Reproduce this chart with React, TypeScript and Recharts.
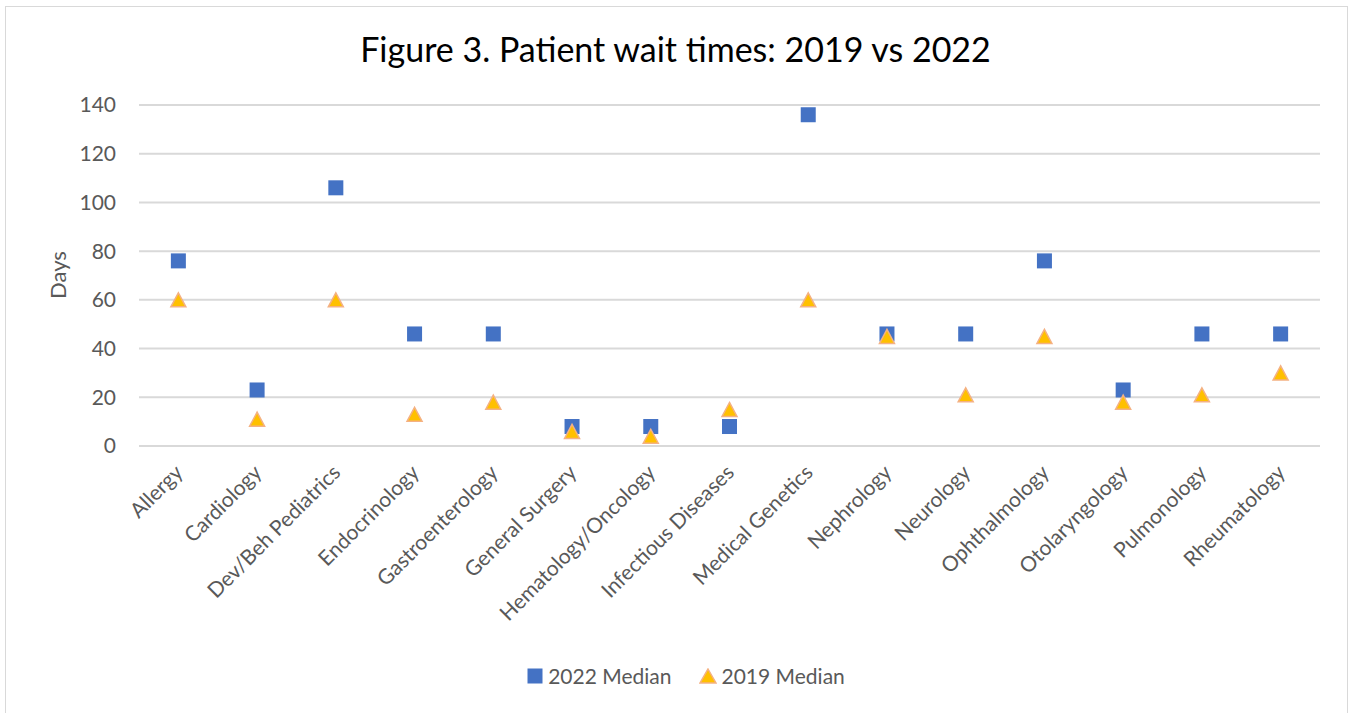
import React from 'react'
import { ComposedChart, Scatter, XAxis, YAxis, CartesianGrid, Legend } from 'recharts'

const specialties = [
  'Allergy',
  'Cardiology',
  'Dev/Beh Pediatrics',
  'Endocrinology',
  'Gastroenterology',
  'General Surgery',
  'Hematology/Oncology',
  'Infectious Diseases',
  'Medical Genetics',
  'Nephrology',
  'Neurology',
  'Ophthalmology',
  'Otolaryngology',
  'Pulmonology',
  'Rheumatology',
]
const median2022 = [76, 23, 106, 46, 46, 8, 8, 8, 136, 46, 46, 76, 23, 46, 46]
const median2019 = [60, 11, 60, 13, 18, 6, 4, 15, 60, 45, 21, 45, 18, 21, 30]
const yTicks = [0, 20, 40, 60, 80, 100, 120, 140]

const BLUE = '#4472C4'
const GOLD = '#FFC000'
const GOLD_EDGE = '#F4B183'
const TEXT = '#595959'
const FONT = 'Lato, "Open Sans", sans-serif'

const data = specialties.map((name, i) => ({
  name,
  v2022: median2022[i],
  v2019: median2019[i],
}))

const SquareDot = (props: any) => {
  const { cx, cy } = props
  if (cx == null || cy == null) return null
  return <rect x={cx - 7.5} y={cy - 7.5} width={15} height={15} fill={BLUE} />
}

const TriangleDot = (props: any) => {
  const { cx, cy } = props
  if (cx == null || cy == null) return null
  return (
    <path
      d={`M${cx},${cy - 7} L${cx + 7.5},${cy + 7} L${cx - 7.5},${cy + 7} Z`}
      fill={GOLD}
      stroke={GOLD_EDGE}
      strokeWidth={1.5}
    />
  )
}

const CategoryTick = (props: any) => {
  const { x, y, payload } = props
  const ax = x - 6
  const ay = y + 8
  return (
    <text
      x={ax}
      y={ay}
      transform={`rotate(-45, ${ax}, ${ay})`}
      textAnchor="end"
      dominantBaseline="hanging"
      fill={TEXT}
      fontSize={21}
      fontFamily={FONT}
    >
      {payload.value}
    </text>
  )
}

const LegendContent = () => (
  <div
    style={{
      display: 'flex',
      justifyContent: 'center',
      alignItems: 'center',
      fontFamily: FONT,
      fontSize: 21,
      color: TEXT,
      paddingLeft: 12,
    }}
  >
    <svg width={16} height={16} style={{ marginRight: 5 }}>
      <rect x={0.5} y={0.5} width={15} height={15} fill={BLUE} />
    </svg>
    <span>2022 Median</span>
    <svg width={18} height={16} style={{ marginLeft: 27, marginRight: 5 }}>
      <path d="M9,1 L17,15 L1,15 Z" fill={GOLD} stroke={GOLD_EDGE} strokeWidth={1.5} />
    </svg>
    <span>2019 Median</span>
  </div>
)

export default function App() {
  return (
    <div
      style={{
        position: 'absolute',
        left: 0,
        top: 0,
        width: 1351,
        height: 713,
        background: '#fff',
        fontFamily: FONT,
      }}
    >
      <div
        style={{
          position: 'absolute',
          left: 5,
          top: 6,
          width: 1343,
          height: 720,
          border: '1px solid #d9d9d9',
          boxSizing: 'border-box',
        }}
      />
      <div
        style={{
          position: 'absolute',
          left: 0,
          top: 28,
          width: 1351,
          textAlign: 'center',
          fontSize: 34,
          color: '#000',
        }}
      >
        Figure 3. Patient wait times: 2019 vs 2022
      </div>
      <div
        style={{
          position: 'absolute',
          left: 57,
          top: 275,
          transform: 'translate(-50%, -50%) rotate(-90deg)',
          fontSize: 22,
          color: TEXT,
        }}
      >
        Days
      </div>
      <div style={{ position: 'absolute', left: 0, top: 0 }}>
        <ComposedChart
          width={1351}
          height={713}
          data={data}
          margin={{ top: 105, right: 31, bottom: 20, left: 40 }}
        >
          <CartesianGrid vertical={false} stroke="#d9d9d9" strokeWidth={2} />
          <XAxis
            dataKey="name"
            type="category"
            scale="band"
            interval={0}
            tickLine={false}
            axisLine={{ stroke: '#d9d9d9', strokeWidth: 2 }}
            tick={<CategoryTick />}
            height={217}
          />
          <YAxis
            domain={[0, 140]}
            ticks={yTicks}
            width={99}
            tickLine={false}
            axisLine={false}
            tickSize={0}
            tickMargin={23}
            tick={{ fill: TEXT, fontSize: 21, fontFamily: FONT }}
          />
          <Legend verticalAlign="bottom" height={30} content={<LegendContent />} />
          <Scatter
            name="2022 Median"
            dataKey="v2022"
            shape={<SquareDot />}
            isAnimationActive={false}
          />
          <Scatter
            name="2019 Median"
            dataKey="v2019"
            shape={<TriangleDot />}
            isAnimationActive={false}
          />
        </ComposedChart>
      </div>
    </div>
  )
}
